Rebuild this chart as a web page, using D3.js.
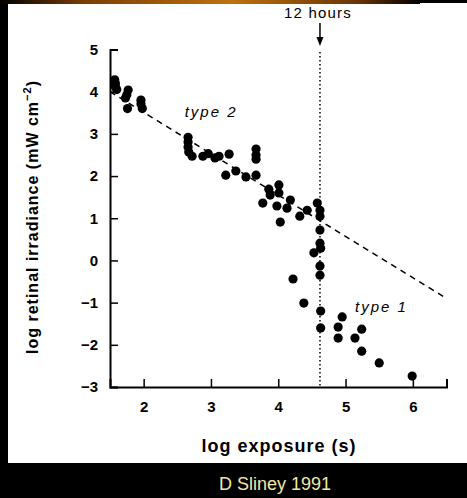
<!DOCTYPE html>
<html>
<head>
<meta charset="utf-8">
<script src="https://cdn.jsdelivr.net/npm/d3@7"></script>
<style>
  body { margin: 0; background: #000; }
  svg { display: block; }
  text { font-family: "Liberation Sans", Arial, sans-serif; }
</style>
</head>
<body>
<div id="chart"></div>
<script>
// log exposure (s) vs log retinal irradiance
const type2X = [1.57, 1.58, 1.58, 1.60, 1.77, 1.75, 1.73, 1.76, 1.96, 1.96, 1.98,
  2.66, 2.66, 2.66, 2.67, 2.72, 2.88, 2.96, 3.06, 3.12, 3.27, 3.22, 3.37, 3.52, 3.67,
  3.67, 3.67, 3.67, 3.86, 4.01, 4.01, 3.88, 3.77, 4.18, 3.98, 4.13, 4.03, 4.32, 4.43, 4.58];
const type2Y = [4.28, 4.20, 4.12, 4.05, 4.04, 3.93, 3.85, 3.60, 3.80, 3.71, 3.60,
  2.92, 2.81, 2.69, 2.57, 2.47, 2.47, 2.53, 2.43, 2.47, 2.52, 2.02, 2.12, 1.98, 2.02,
  2.64, 2.50, 2.40, 1.69, 1.79, 1.60, 1.55, 1.36, 1.43, 1.29, 1.24, 0.91, 1.05, 1.19, 1.36];
const type1X = [4.62, 4.62, 4.62, 4.62, 4.63, 4.53, 4.62, 4.62, 4.22, 4.38, 4.63, 4.63,
  4.95, 4.89, 4.89, 5.14, 5.24, 5.24, 5.50, 5.99];
const type1Y = [1.19, 1.05, 0.72, 0.41, 0.29, 0.18, -0.13, -0.35, -0.44, -1.01, -1.20, -1.60,
  -1.34, -1.58, -1.84, -1.84, -1.63, -2.15, -2.43, -2.74];
const fitX = [1.5, 6.5];
const fitY = [4.0, -0.9];
const twelveHours = 4.62;
const xTicks = [2, 3, 4, 5, 6];
const yTicks = [-3, -2, -1, 0, 1, 2, 3, 4, 5];

const W = 467, H = 498;
const svg = d3.select("#chart").append("svg")
  .attr("width", W).attr("height", H);

// slide frame
const grad = svg.append("defs").append("linearGradient").attr("id", "bar");
grad.append("stop").attr("offset", "0%").attr("stop-color", "#000");
grad.append("stop").attr("offset", "20%").attr("stop-color", "#7a3e06");
grad.append("stop").attr("offset", "55%").attr("stop-color", "#c0700e");
grad.append("stop").attr("offset", "85%").attr("stop-color", "#6a3404");
grad.append("stop").attr("offset", "100%").attr("stop-color", "#000");
svg.append("rect").attr("x", 8).attr("y", 3).attr("width", W - 8).attr("height", 460).attr("fill", "#fff");
svg.append("rect").attr("x", 0).attr("y", 0).attr("width", 420).attr("height", 4).attr("fill", "url(#bar)");

const x = d3.scaleLinear().domain([1.5, 6.5]).range([110, 446.5]);
const y = d3.scaleLinear().domain([-3, 5]).range([387, 49.5]);

// axes
const gx = svg.append("g").attr("transform", "translate(0," + y(-3) + ")");
gx.call(d3.axisBottom(x).tickValues(d3.range(2.5, 6.5, 1)).tickSize(-5).tickFormat(""));
gx.call(d3.axisBottom(x).tickValues(xTicks).tickSize(-8).tickPadding(14).tickFormat(d3.format("d")));
const gy = svg.append("g").attr("transform", "translate(" + x(1.5) + ",0)");
gy.call(d3.axisLeft(y).tickValues(d3.range(-2.5, 5, 1)).tickSize(-5).tickFormat(""));
gy.call(d3.axisLeft(y).tickValues(yTicks).tickSize(-8).tickPadding(12).tickFormat(d => d < 0 ? "\u2212" + (-d) : d));
svg.selectAll(".domain").attr("stroke", "#000").attr("stroke-width", 2);
svg.selectAll(".tick line").attr("stroke", "#000").attr("stroke-width", 1.5);
svg.selectAll(".tick text").attr("font-family", "Liberation Sans, Arial, sans-serif")
  .attr("font-size", 15).attr("font-weight", "bold").attr("fill", "#000");

// 12 hour marker
svg.append("line")
  .attr("x1", x(twelveHours)).attr("x2", x(twelveHours))
  .attr("y1", 52).attr("y2", y(-3))
  .attr("stroke", "#000").attr("stroke-width", 1.5).attr("stroke-dasharray", "1.5,2.5");
svg.append("line")
  .attr("x1", x(twelveHours)).attr("x2", x(twelveHours))
  .attr("y1", 23).attr("y2", 40)
  .attr("stroke", "#000").attr("stroke-width", 1.5);
svg.append("path")
  .attr("d", "M" + (x(twelveHours) - 3.5) + ",37L" + (x(twelveHours) + 3.5) + ",37L" + x(twelveHours) + ",46Z")
  .attr("fill", "#000");
svg.append("text").attr("x", x(twelveHours) - 2).attr("y", 18)
  .attr("text-anchor", "middle").attr("font-size", 15).attr("letter-spacing", 1.2)
  .text("12 hours");

// fitted line
svg.append("line")
  .attr("x1", x(fitX[0])).attr("y1", y(fitY[0]))
  .attr("x2", x(fitX[1])).attr("y2", y(fitY[1]))
  .attr("stroke", "#000").attr("stroke-width", 1.5).attr("stroke-dasharray", "6,5");

// points
const pts = type2X.map((v, i) => [v, type2Y[i]])
  .concat(type1X.map((v, i) => [v, type1Y[i]]));
svg.append("g").selectAll("circle")
  .data(pts).enter().append("circle")
  .attr("cx", d => x(d[0])).attr("cy", d => y(d[1]))
  .attr("r", 4.6).attr("fill", "#000");

// labels
svg.append("text").attr("x", x(2.61)).attr("y", 117)
  .attr("font-size", 15).attr("font-style", "italic").attr("letter-spacing", 2)
  .text("type 2");
svg.append("text").attr("x", x(5.14)).attr("y", 312)
  .attr("font-size", 15).attr("font-style", "italic").attr("letter-spacing", 2)
  .text("type 1");

svg.append("text").attr("x", 279).attr("y", 452)
  .attr("text-anchor", "middle").attr("font-size", 18).attr("font-weight", "bold")
  .attr("letter-spacing", 1)
  .text("log exposure (s)");

const yt = svg.append("text")
  .attr("transform", "translate(38,217) rotate(-90)")
  .attr("text-anchor", "middle").attr("font-size", 16).attr("font-weight", "bold")
  .attr("letter-spacing", 1);
yt.append("tspan").text("log retinal irradiance (mW cm");
yt.append("tspan").attr("dy", -7).attr("font-size", 11).text("\u22122");
yt.append("tspan").attr("dy", 7).text(")");

svg.append("text").attr("x", 275).attr("y", 490)
  .attr("text-anchor", "middle").attr("font-size", 18).attr("fill", "#f0e8a8")
  .text("D Sliney 1991");
</script>
</body>
</html>
